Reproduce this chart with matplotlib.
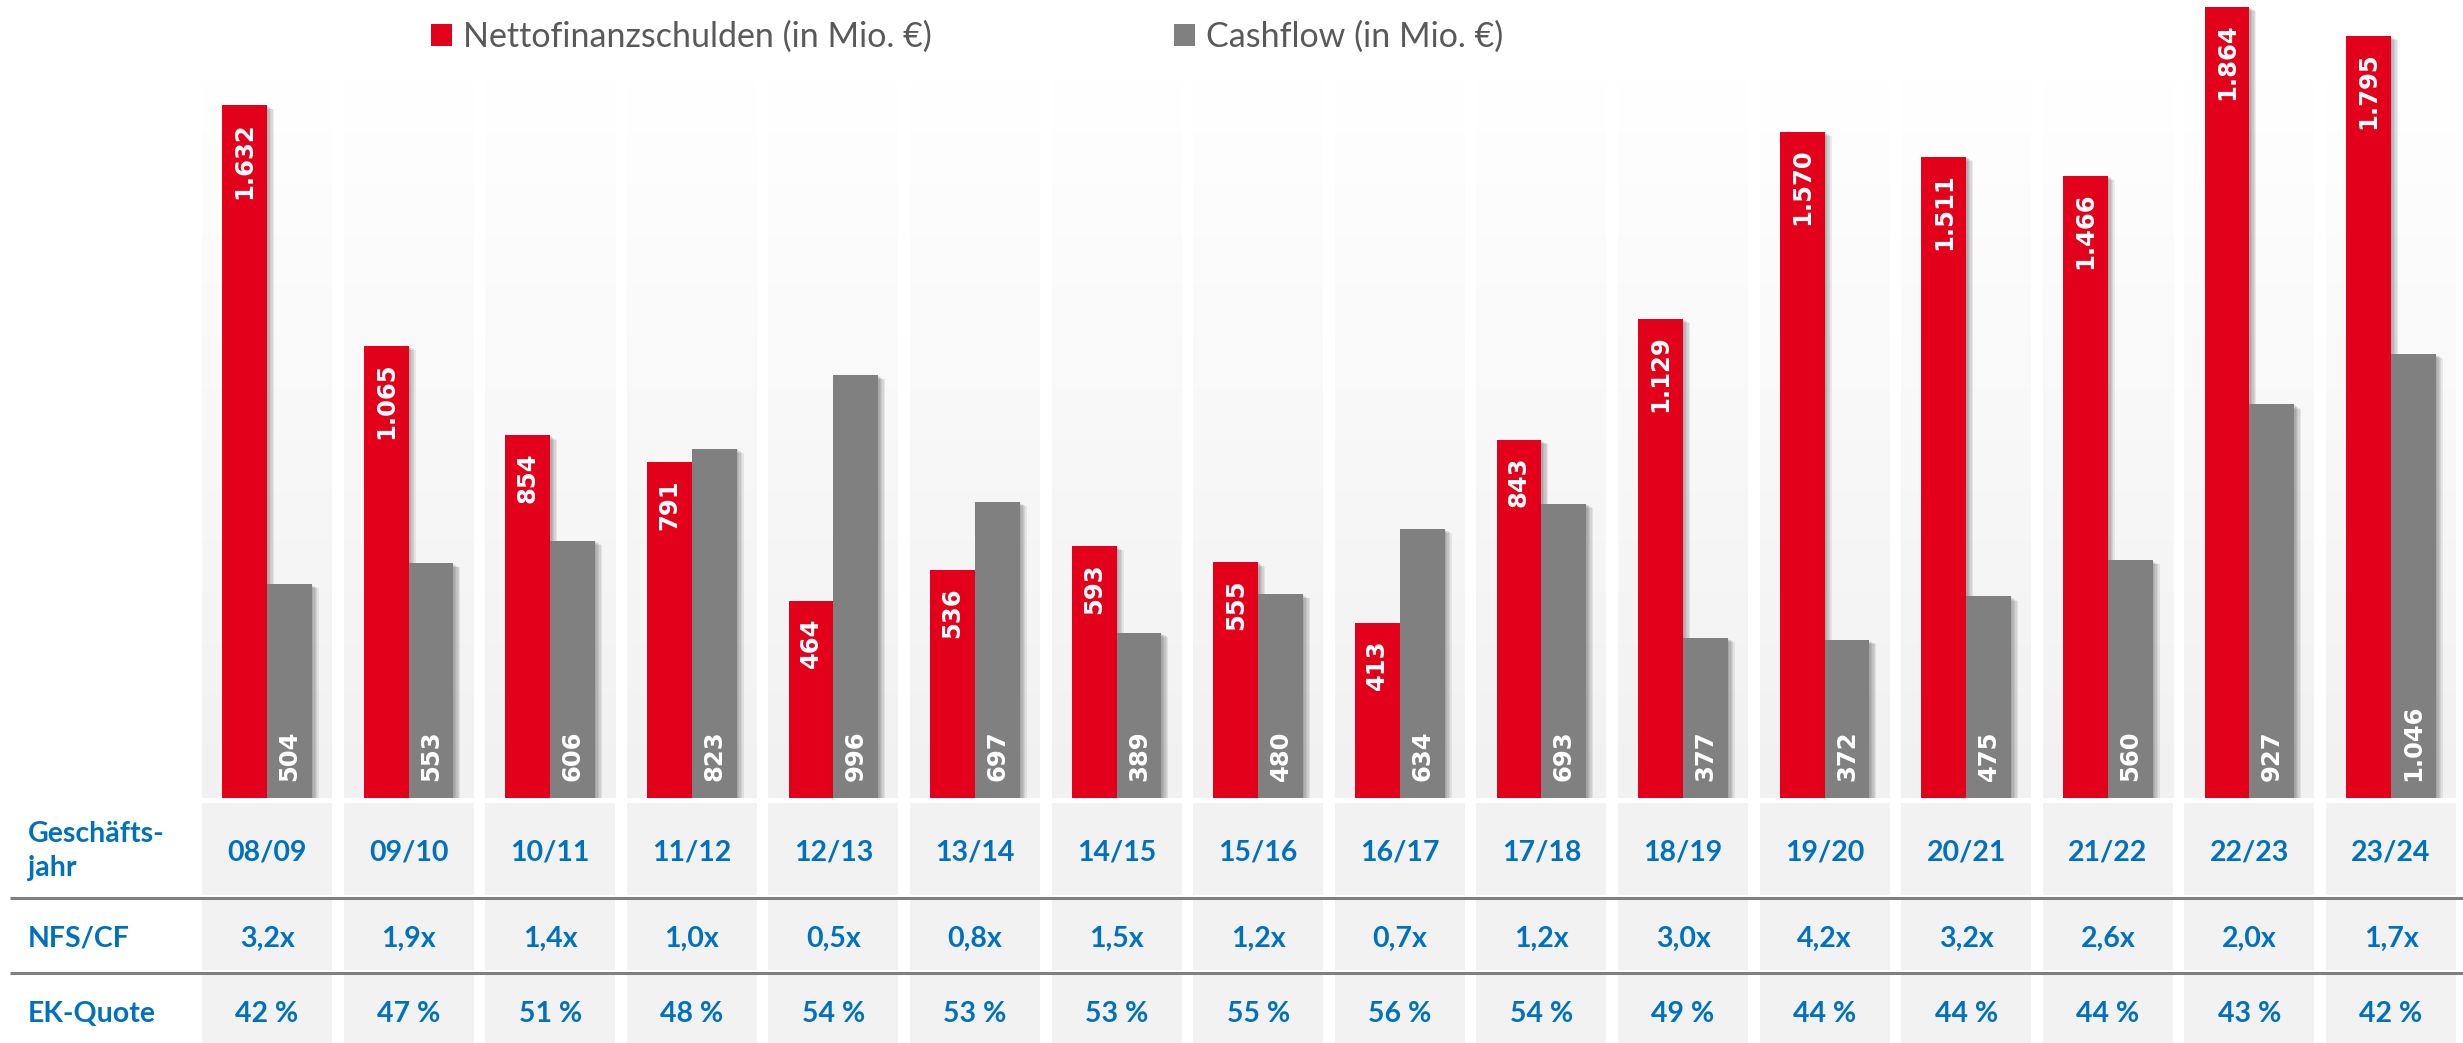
import numpy as np
import matplotlib
matplotlib.use("Agg")
import matplotlib.pyplot as plt
from matplotlib import patheffects as pe
from matplotlib.colors import LinearSegmentedColormap
from matplotlib.patches import Patch, Rectangle

years = ["08/09", "09/10", "10/11", "11/12", "12/13", "13/14", "14/15", "15/16",
         "16/17", "17/18", "18/19", "19/20", "20/21", "21/22", "22/23", "23/24"]
nfs = [1632, 1065, 854, 791, 464, 536, 593, 555, 413, 843, 1129, 1570, 1511, 1466, 1864, 1795]
cashflow = [504, 553, 606, 823, 996, 697, 389, 480, 634, 693, 377, 372, 475, 560, 927, 1046]
nfs_cf = ["3,2x", "1,9x", "1,4x", "1,0x", "0,5x", "0,8x", "1,5x", "1,2x",
          "0,7x", "1,2x", "3,0x", "4,2x", "3,2x", "2,6x", "2,0x", "1,7x"]
ek_quote = ["42 %", "47 %", "51 %", "48 %", "54 %", "53 %", "53 %", "55 %",
            "56 %", "54 %", "49 %", "44 %", "44 %", "44 %", "43 %", "42 %"]

RED = "#E2001A"
GREY = "#808080"
BLUE = "#0070C0"
CELL = "#F2F2F2"

plt.rcParams["font.family"] = ["Lato", "DejaVu Sans"]

W, H = 2463, 1043
fig = plt.figure(figsize=(W / 100, H / 100), dpi=100)
fig.patch.set_facecolor("white")

# column grid in pixels
X0, PITCH = 267, 141.6
BASE = 798            # baseline of the bars, px from top
PX_PER_MIO = 0.4245


def col(px):
    return (px - X0) / PITCH


xlim = (col(0), col(W))
half = 65 / PITCH
bw = 44.8 / PITCH
x = np.arange(len(years))

y0 = (H - BASE) / H
ax = fig.add_axes([0, y0, 1, 1 - y0])
ax.set_axis_off()
ymax = BASE / PX_PER_MIO

# light column panels behind the bars
panel_cmap = LinearSegmentedColormap.from_list("panel", ["#FFFFFF", "#F1F1F1"])
grad = np.linspace(0, 1, 256).reshape(-1, 1)
panel_top = (BASE - 80) / PX_PER_MIO
for xi in x:
    ax.imshow(grad, cmap=panel_cmap, aspect="auto", origin="upper",
              extent=(xi - half, xi + half, 0, panel_top), zorder=0)

shadow = [pe.SimplePatchShadow(offset=(o, -0.6 * o), shadow_rgbFace="black", alpha=0.07)
          for o in (1, 2, 3, 4, 5)] + [pe.Normal()]

ax.bar(x - bw / 2, nfs, bw, color=RED, zorder=3, path_effects=shadow)
ax.bar(x + bw / 2, cashflow, bw, color=GREY, zorder=3, path_effects=shadow)


def fmt(v):
    return f"{v:,}".replace(",", ".")


lbl = dict(ha="center", rotation=90, color="white", fontweight="bold",
           family="DejaVu Sans", fontsize=17.5, textcoords="offset points", zorder=5)
for xi, v in zip(x - bw / 2, nfs):
    ax.annotate(fmt(v), (xi, v), xytext=(0, -12), va="top", **lbl)
for xi, v in zip(x + bw / 2, cashflow):
    ax.annotate(fmt(v), (xi, 0), xytext=(0, 12), va="bottom", **lbl)

ax.set_xlim(xlim)
ax.set_ylim(0, ymax)

handles = [Patch(facecolor=RED, edgecolor="none"), Patch(facecolor=GREY, edgecolor="none")]
fig.legend(handles, ["Nettofinanzschulden (in Mio. €)", "Cashflow (in Mio. €)"],
           loc="center left", bbox_to_anchor=(431 / W, 1 - 37 / H), ncol=2,
           frameon=False, fontsize=24.5, labelcolor="#595959",
           handlelength=0.62, handleheight=0.62, handletextpad=0.33,
           columnspacing=7.1, borderpad=0, borderaxespad=0)

# table below the chart
tab = fig.add_axes([0, 0, 1, y0])
tab.set_axis_off()
tab.set_xlim(xlim)
tab.set_ylim(H, BASE)

rows = [(803, 895), (900, 970), (975, H)]
for xi in x:
    for top, bottom in rows:
        tab.add_patch(Rectangle((xi - half, top), 2 * half, bottom - top,
                                facecolor=CELL, edgecolor="none", zorder=1))

for yl in (897.5, 973):
    tab.plot([col(10), col(W)], [yl, yl], color="#808080", lw=2.2,
             solid_capstyle="butt", zorder=2)

txt = dict(color=BLUE, fontweight="bold", fontsize=20.5, va="baseline")
tab.text(col(28), 851, "Geschäfts-\njahr", ha="left", va="center",
         linespacing=1.4, color=BLUE, fontweight="bold", fontsize=20.5)
tab.text(col(28), 947, "NFS/CF", ha="left", **txt)
tab.text(col(28), 1022, "EK-Quote", ha="left", **txt)

for xi, yr, r, q in zip(x, years, nfs_cf, ek_quote):
    tab.text(xi, 860, yr, ha="center", **txt)
    tab.text(xi, 947, r, ha="center", **txt)
    tab.text(xi, 1022, q, ha="center", **txt)

fig.savefig("out.png", dpi=100, facecolor="white")
